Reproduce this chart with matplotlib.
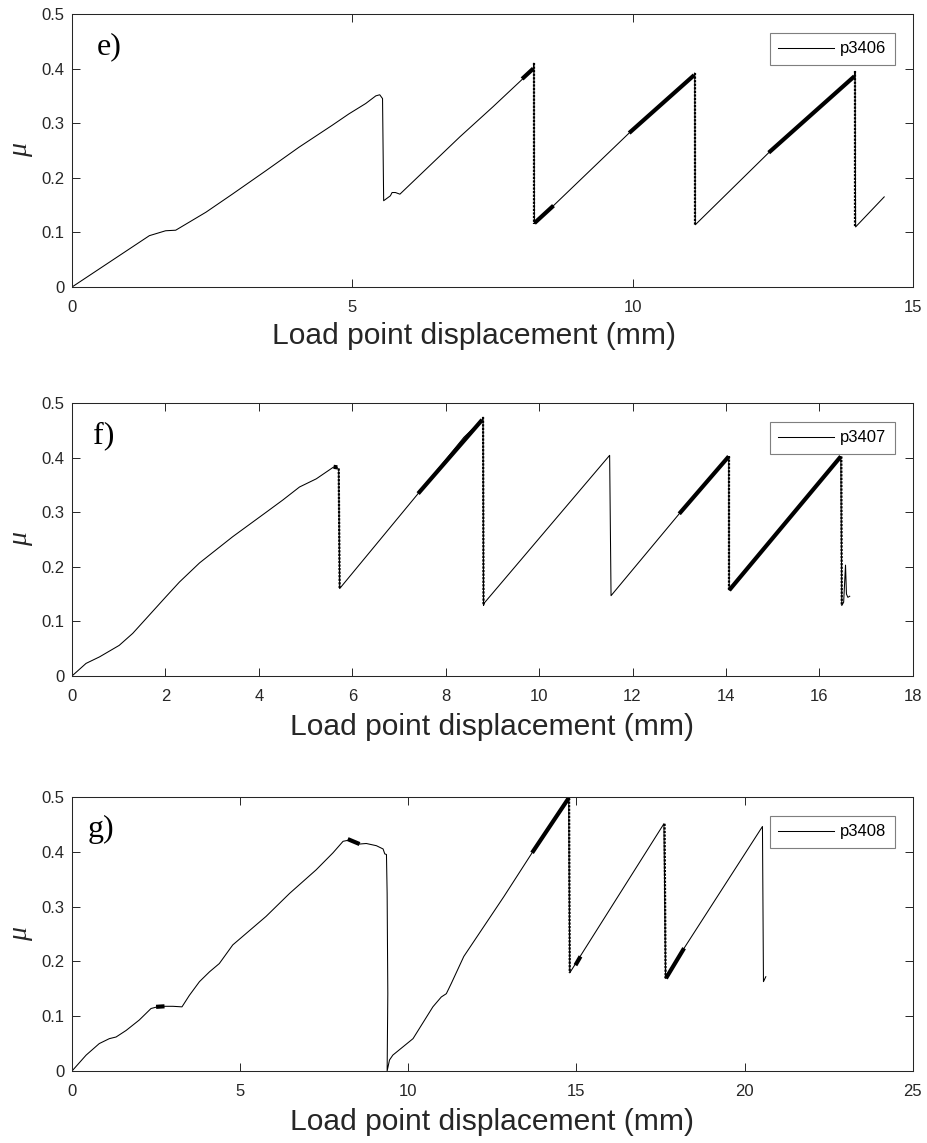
import matplotlib
matplotlib.use("Agg")
import matplotlib.pyplot as plt

# ---- data (x in mm, y = friction mu) ----
E_X = [0, 1.38, 1.67, 1.85, 2.39, 2.86, 3.46, 4.05, 4.64, 4.94, 5.24, 5.42, 5.49, 5.54,
       5.56, 5.68, 5.71, 5.77, 5.85, 6.92, 7.51, 8.04, 8.23, 8.24, 8.25,
       8.59, 9.94, 11.10, 11.11, 11.12, 12.43, 13.96, 13.97, 13.98, 14.49]
E_Y = [0, 0.094, 0.103, 0.104, 0.137, 0.170, 0.213, 0.256, 0.296, 0.317, 0.336, 0.350, 0.352, 0.345,
       0.158, 0.167, 0.173, 0.173, 0.170, 0.275, 0.330, 0.381, 0.400, 0.410, 0.116,
       0.149, 0.282, 0.387, 0.392, 0.114, 0.246, 0.385, 0.395, 0.110, 0.165]
E_THICK = [([8.03, 8.23], [0.381, 0.400]),
           ([8.25, 8.59], [0.117, 0.149]),
           ([9.94, 11.10], [0.282, 0.388]),
           ([12.43, 13.96], [0.246, 0.386])]
E_DROPS = [([8.24, 8.24], [0.410, 0.115]),
           ([11.11, 11.11], [0.392, 0.113]),
           ([13.97, 13.97], [0.395, 0.110])]

F_X = [0, 0.30, 0.59, 1.01, 1.30, 2.01, 2.30, 2.73, 3.44, 4.16, 4.51, 4.87, 5.23, 5.59,
       5.66, 5.71, 5.73, 7.41, 8.39, 8.78, 8.80, 8.81, 8.83, 11.51, 11.54, 13.00, 14.06,
       14.07, 16.46, 16.48, 16.52, 16.56, 16.58, 16.61, 16.65]
F_Y = [0, 0.023, 0.035, 0.056, 0.078, 0.145, 0.172, 0.207, 0.255, 0.300, 0.322, 0.346, 0.361, 0.382,
       0.384, 0.377, 0.160, 0.334, 0.437, 0.469, 0.474, 0.129, 0.134, 0.404, 0.147, 0.297, 0.402,
       0.157, 0.402, 0.129, 0.135, 0.203, 0.150, 0.144, 0.146]
F_THICK = [([5.60, 5.68], [0.383, 0.382]),
           ([7.41, 8.78], [0.334, 0.469]),
           ([13.00, 14.06], [0.297, 0.402]),
           ([14.07, 16.46], [0.157, 0.402])]
F_DROPS = [([5.71, 5.73], [0.380, 0.160]),
           ([8.80, 8.81], [0.474, 0.129]),
           ([14.07, 14.07], [0.402, 0.157]),
           ([16.47, 16.48], [0.402, 0.129])]

G_X = [0, 0.42, 0.81, 1.11, 1.31, 1.61, 2.00, 2.35, 2.60, 3.00, 3.27, 3.49, 3.79, 4.09,
       4.38, 4.78, 5.77, 6.47, 7.26, 7.76, 8.06, 8.30, 8.55, 8.75, 9.05, 9.25, 9.30, 9.35,
       9.37, 9.39, 9.37, 9.44, 9.54, 10.14, 10.73, 10.98, 11.13, 11.28, 11.65, 12.84, 13.68,
       14.77, 14.80, 17.60, 17.65, 18.20, 20.53, 20.56, 20.63]
G_Y = [0, 0.029, 0.050, 0.059, 0.062, 0.074, 0.093, 0.114, 0.118, 0.118, 0.117, 0.138, 0.163, 0.181,
       0.196, 0.230, 0.282, 0.324, 0.367, 0.398, 0.419, 0.422, 0.414, 0.415, 0.411, 0.405, 0.396, 0.395,
       0.324, 0.141, 0.0, 0.020, 0.029, 0.059, 0.117, 0.135, 0.141, 0.160, 0.209, 0.318, 0.398,
       0.498, 0.179, 0.451, 0.169, 0.224, 0.446, 0.163, 0.172]
G_THICK = [([2.50, 2.75], [0.117, 0.118]),
           ([8.20, 8.55], [0.423, 0.414]),
           ([13.68, 14.77], [0.398, 0.498]),
           ([14.97, 15.12], [0.193, 0.209]),
           ([17.66, 18.20], [0.169, 0.224])]
G_DROPS = [([14.78, 14.80], [0.498, 0.179]),
           ([17.62, 17.65], [0.451, 0.169])]

PANELS = [
    ("e)", "p3406", E_X, E_Y, E_THICK, E_DROPS, 15, [0, 5, 10, 15]),
    ("f)", "p3407", F_X, F_Y, F_THICK, F_DROPS, 18, list(range(0, 19, 2))),
    ("g)", "p3408", G_X, G_Y, G_THICK, G_DROPS, 25, [0, 5, 10, 15, 20, 25]),
]
Y_TICKS = [0, 0.1, 0.2, 0.3, 0.4, 0.5]
Y_LABELS = ["0", "0.1", "0.2", "0.3", "0.4", "0.5"]

AX_COLOR = "#262626"
SANS = "Liberation Sans"
SERIF = "Liberation Serif"

# axes boxes in figure fraction [left, bottom, width, height]
BOXES = [[0.0776, 0.7489, 0.906, 0.2389],
         [0.0776, 0.4086, 0.906, 0.2389],
         [0.0776, 0.0630, 0.906, 0.2398]]
# x label placement (axes fraction): centre x, top y
XLAB_POS = [(0.4786, -0.127), (0.5, -0.1366), (0.5, -0.136)]

fig = plt.figure(figsize=(9.28, 11.43), dpi=100)
fig.patch.set_facecolor("white")

for (tag, name, xs, ys, thick, drops, xmax, xticks), box, xlab in zip(PANELS, BOXES, XLAB_POS):
    ax = fig.add_axes(box)
    ax.plot(xs, ys, color="black", lw=0.75, label=name)
    for tx, ty in thick:
        ax.plot(tx, ty, color="black", lw=3.0, solid_capstyle="butt")
    for dx, dy in drops:
        ax.plot(dx, dy, color="black", lw=1.6, ls=(0, (1, 0.6)))

    ax.set_xlim(0, xmax)
    ax.set_ylim(0, 0.5)
    ax.set_xticks(xticks)
    ax.set_xticklabels([str(t) for t in xticks])
    ax.set_yticks(Y_TICKS)
    ax.set_yticklabels(Y_LABELS)
    ax.tick_params(direction="in", top=True, right=True, length=6, width=0.7,
                   color=AX_COLOR, labelcolor=AX_COLOR, labelsize=12)
    ax.tick_params(axis="x", pad=9.5)
    ax.tick_params(axis="y", pad=5.5)
    for lab in ax.get_xticklabels() + ax.get_yticklabels():
        lab.set_family(SANS)
    for sp in ax.spines.values():
        sp.set_color(AX_COLOR)
        sp.set_linewidth(0.75)

    ax.set_xlabel("Load point displacement (mm)", fontsize=21.6, family=SANS,
                  color=AX_COLOR)
    ax.xaxis.set_label_coords(*xlab)
    ax.set_ylabel("μ", fontsize=20, family=SERIF, style="italic",
                  color=AX_COLOR, labelpad=6)
    ax.text(0.45, 0.44, tag, fontsize=23, family=SERIF, va="center", ha="left")

    leg = ax.legend(loc="upper right", bbox_to_anchor=(0.9786, 0.930),
                    borderaxespad=0, fancybox=False, framealpha=1,
                    edgecolor="#7f7f7f", handlelength=3.36, handletextpad=0.35,
                    borderpad=0.5, prop={"family": SANS, "size": 12})
    leg.get_frame().set_linewidth(0.8)

fig.savefig("out.png", dpi=100)
